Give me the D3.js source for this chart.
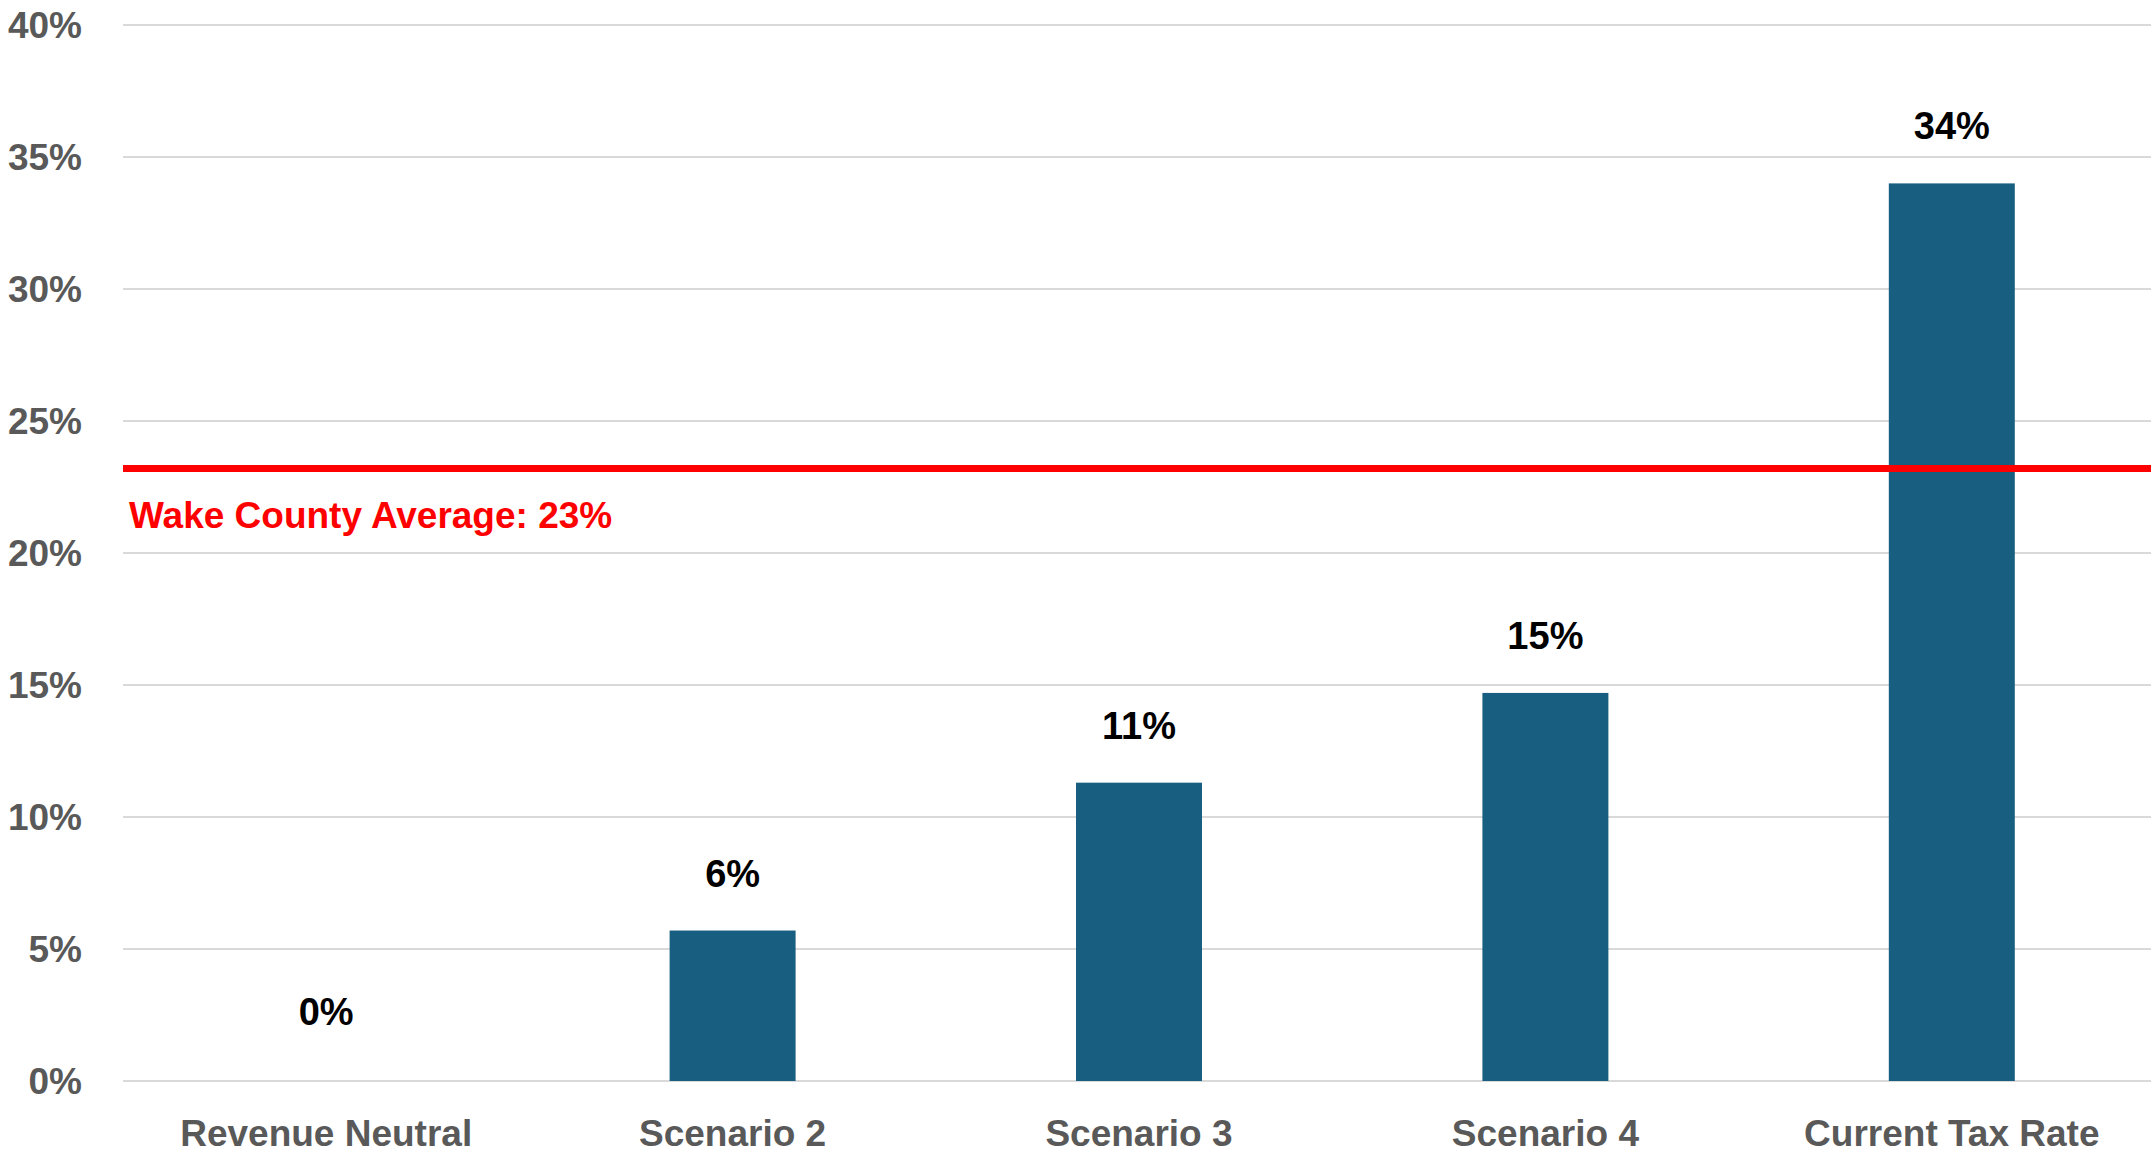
<html>
  <head>
    <meta charset="UTF-8">
    <style>
      body { margin: 0; background: #ffffff; }
      svg { display: block; }
      .tick-y { font-family: 'Liberation Sans', Arial, sans-serif; font-weight: bold; font-size: 37px; fill: #595959; }
      .tick-x { font-family: 'Liberation Sans', Arial, sans-serif; font-weight: bold; font-size: 37px; fill: #595959; }
      .value { font-family: 'Liberation Sans', Arial, sans-serif; font-weight: bold; font-size: 38px; fill: #000000; }
      .avg { font-family: 'Liberation Sans', Arial, sans-serif; font-weight: bold; font-size: 37px; fill: #ff0000; }
    </style>
  </head>
  <body>
    <script src="https://d3js.org/d3.v7.min.js"></script>
    <svg id="chart" width="2151" height="1153"></svg>
    <script>
      var categories = ["Revenue Neutral", "Scenario 2", "Scenario 3", "Scenario 4", "Current Tax Rate"];
      var values = [0, 5.7, 11.3, 14.7, 34.0];
      var valueLabels = ["0%", "6%", "11%", "15%", "34%"];
      var yTicks = [0, 5, 10, 15, 20, 25, 30, 35, 40];
      var averageValue = 23.2;
      var averageLabel = "Wake County Average: 23%";

      var svg = d3.select("#chart");

      var x = d3.scaleBand().domain(categories).range([123, 2155])
          .paddingInner(0.69).paddingOuter(0.345);
      var y = d3.scaleLinear().domain([0, 40]).range([1081, 25]);

      /* gridlines */
      svg.append("g").selectAll("line")
        .data(yTicks)
        .enter().append("line")
        .attr("x1", 123)
        .attr("x2", 2151)
        .attr("y1", function(d) { return y(d); })
        .attr("y2", function(d) { return y(d); })
        .attr("stroke", "#d9d9d9")
        .attr("stroke-width", 2);

      /* y axis labels */
      svg.append("g").selectAll("text")
        .data(yTicks)
        .enter().append("text")
        .attr("class", "tick-y")
        .attr("x", 82)
        .attr("y", function(d) { return y(d); })
        .attr("dy", "0.36em")
        .attr("text-anchor", "end")
        .text(function(d) { return d + "%"; });

      /* bars */
      svg.append("g").selectAll("rect")
        .data(values)
        .enter().append("rect")
        .attr("x", function(d, i) { return x(categories[i]); })
        .attr("y", function(d) { return y(d); })
        .attr("width", x.bandwidth())
        .attr("height", function(d) { return y(0) - y(d); })
        .attr("fill", "#175e80");

      /* value labels (zero-height bar gets its label lifted a bit, like the source) */
      svg.append("g").selectAll("text")
        .data(values)
        .enter().append("text")
        .attr("class", "value")
        .attr("x", function(d, i) { return x(categories[i]) + x.bandwidth() / 2; })
        .attr("y", function(d) { return Math.min(y(d) - 44, y(0) - 56); })
        .attr("text-anchor", "middle")
        .text(function(d, i) { return valueLabels[i]; });

      /* x axis labels */
      svg.append("g").selectAll("text")
        .data(categories)
        .enter().append("text")
        .attr("class", "tick-x")
        .attr("x", function(d) { return x(d) + x.bandwidth() / 2; })
        .attr("y", 1146)
        .attr("text-anchor", "middle")
        .text(function(d) { return d; });

      /* average line */
      svg.append("line")
        .attr("x1", 123)
        .attr("x2", 2151)
        .attr("y1", y(averageValue))
        .attr("y2", y(averageValue))
        .attr("stroke", "#ff0000")
        .attr("stroke-width", 7);

      svg.append("text")
        .attr("class", "avg")
        .attr("x", 129)
        .attr("y", y(averageValue) + 59)
        .text(averageLabel);
    </script>
  </body>
</html>
